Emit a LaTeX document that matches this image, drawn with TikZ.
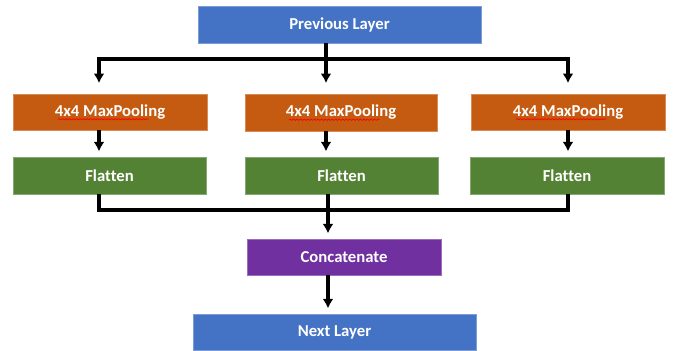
\documentclass[tikz,border=0pt]{standalone}
\usepackage{fontspec}
\setmainfont{Carlito}[Ligatures=CommonOff]
\usetikzlibrary{arrows.meta,decorations.pathmorphing}
\definecolor{layerblue}{HTML}{4472C4}
\definecolor{poolorange}{HTML}{C55A11}
\definecolor{flatgreen}{HTML}{548235}
\definecolor{catpurple}{HTML}{7030A0}
\tikzset{
  block/.style={rectangle, draw=#1!70!white, line width=0.4pt, fill=#1,
    text=white, font=\bfseries\fontsize{9.5pt}{11pt}\selectfont,
    inner sep=0pt},
  wire/.style={line width=1.8pt},
  arr/.style={wire, -{Latex[length=5.4pt,width=6.2pt]}, shorten >=3pt},
}
\newcommand{\squiggle}[1]{%
  \draw [red, line width=0.4pt, decorate,
    decoration={snake, amplitude=0.35pt, segment length=2pt}]
    ([xshift=-6.2ex, yshift=-1.6pt]#1.base) -- ([xshift=4.6ex, yshift=-1.6pt]#1.base);}
\begin{document}
\begin{tikzpicture}[x=0.02cm, y=-0.02cm]
\fill [white] (0, 0) rectangle (677, 349);

\node (prev) at (339.5, 24.5) [block=layerblue, minimum width=5.66cm, minimum height=0.74cm] {Previous Layer};

\node (pool1) at (110, 112) [block=poolorange, minimum width=3.88cm, minimum height=0.72cm] {4x4 MaxPooling};
\node (pool2) at (341, 112.5) [block=poolorange, minimum width=3.84cm, minimum height=0.74cm] {4x4 MaxPooling};
\node (pool3) at (568, 112) [block=poolorange, minimum width=3.88cm, minimum height=0.72cm] {4x4 MaxPooling};

\node (flat1) at (109.5, 175.5) [block=flatgreen, minimum width=3.86cm, minimum height=0.74cm] {Flatten};
\node (flat2) at (341.5, 175.5) [block=flatgreen, minimum width=3.86cm, minimum height=0.74cm] {Flatten};
\node (flat3) at (567, 175.5) [block=flatgreen, minimum width=3.88cm, minimum height=0.74cm] {Flatten};

\node (concat) at (344, 257) [block=catpurple, minimum width=3.88cm, minimum height=0.72cm] {Concatenate};
\node (next) at (334.5, 332) [block=layerblue, minimum width=5.66cm, minimum height=0.72cm] {Next Layer};

\squiggle{pool1}
\squiggle{pool2}
\squiggle{pool3}

% split after the previous layer
\coordinate (sl) at (99, 59);
\coordinate (sm) at (326, 59);
\coordinate (sr) at (568, 59);
\draw [wire] (sl) -- (sr);
\draw [arr, shorten >=6pt] (prev.south -| sm) -- (pool2.north -| sm);
\draw [arr, shorten >=6pt] ([yshift=0.9pt]sl) -- (pool1.north -| sl);
\draw [arr, shorten >=6pt] ([yshift=0.9pt]sr) -- (pool3.north -| sr);

% pooling to flatten
\draw [arr] (pool1.south -| sl) -- (flat1.north -| sl);
\draw [arr] (pool2.south -| sm) -- (flat2.north -| sm);
\draw [arr] (pool3.south -| sr) -- (flat3.north -| sr);

% merge into concatenate
\coordinate (ml) at (99, 210);
\coordinate (mm) at (328, 210);
\coordinate (mr) at (568, 210);
\draw [wire] (flat1.south -| ml) -- (ml) -- (mr) -- (flat3.south -| mr);
\draw [arr] (flat2.south -| mm) -- (concat.north -| mm);
\draw [arr] (concat.south -| mm) -- (next.north -| mm);
\end{tikzpicture}
\end{document}
